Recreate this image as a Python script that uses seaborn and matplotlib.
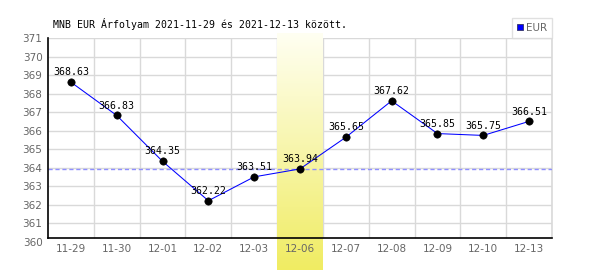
import numpy as np
import pandas as pd
import matplotlib
matplotlib.use("Agg")
import matplotlib.pyplot as plt
from matplotlib.lines import Line2D
import seaborn as sns

# ---- data ----
dates = ["11-29", "11-30", "12-01", "12-02", "12-03", "12-06",
         "12-07", "12-08", "12-09", "12-10", "12-13"]
rates = [368.63, 366.83, 364.35, 362.22, 363.51, 363.94,
         365.65, 367.62, 365.85, 365.75, 366.51]
ref_rate = 363.94
highlight = "12-06"
yticks = list(range(360, 372))
title = "MNB EUR Árfolyam 2021-11-29 és 2021-12-13 között."
series_name = "EUR"

# ---- style / layout constants ----
AXIS_BASE = 360.22
GRID = "#d9d9d9"
TICK_COLOR = "#666666"
MONO = "DejaVu Sans Mono"

sns.set_theme(style="white")
plt.rcParams["font.family"] = ["DejaVu Sans"]

df = pd.DataFrame({"pos": np.arange(len(dates)), "date": dates, "rate": rates})

fig = plt.figure(figsize=(6, 2.7), dpi=100)
ax = fig.add_axes([48 / 600, (270 - 241.8) / 270, 504 / 600, 203.5 / 270])
ax.set_axisbelow(True)

# highlight band (gradient), spilling below the axes
hi = dates.index(highlight)
grad = np.linspace(0, 1, 256).reshape(-1, 1)
cmap = matplotlib.colors.LinearSegmentedColormap.from_list(
    "band", ["#fffff2", "#f0ec62"])
ax.imshow(grad, cmap=cmap, aspect="auto", origin="upper",
          extent=(hi - 0.5, hi + 0.5, -0.139, 1.026),
          transform=ax.get_xaxis_transform(), clip_on=False, zorder=0.2)
ax.set_xlim(-0.5, len(dates) - 0.5)
ax.set_ylim(yticks[0], yticks[-1])

# grid
ax.hlines(yticks[1:], -0.5, len(dates) - 0.5, color=GRID, lw=1, zorder=0)
ax.vlines(np.arange(0.5, len(dates), 1), AXIS_BASE, yticks[-1],
          color=GRID, lw=1, zorder=0)

# reference dashed line
ax.axhline(ref_rate, color="#8f8fff", lw=1, ls=(0, (3, 2)), zorder=2)

# series
sns.lineplot(data=df, x="pos", y="rate", ax=ax, color="#0000ff", lw=0.75,
             zorder=3, legend=False)
sns.scatterplot(data=df, x="pos", y="rate", ax=ax, color="black", s=28,
                edgecolor="black", zorder=4, legend=False)

for p, r in zip(df["pos"], df["rate"]):
    ax.annotate(f"{r:.2f}", (p, r), xytext=(0, 3.5), textcoords="offset points",
                ha="center", va="bottom", fontsize=7.1, family=MONO,
                color="black", zorder=5)

# axes styling
ax.set_xticks(df["pos"])
ax.set_xticklabels(dates)
ax.set_yticks(yticks)
ax.set_yticklabels([str(t) for t in yticks])
ax.tick_params(axis="both", length=0, labelsize=7.5, colors=TICK_COLOR)
ax.tick_params(axis="x", pad=4.5)
ax.tick_params(axis="y", pad=4)
ax.set_xlabel("")
ax.set_ylabel("")
for s in ["top", "right"]:
    ax.spines[s].set_visible(False)
ax.spines["bottom"].set_position(("data", AXIS_BASE))
ax.spines["bottom"].set_color("black")
ax.spines["bottom"].set_linewidth(1.2)
ax.spines["left"].set_color("black")
ax.spines["left"].set_linewidth(1.2)
ax.spines["left"].set_bounds(AXIS_BASE, yticks[-1])
ax.vlines([len(dates) - 0.5], AXIS_BASE, yticks[-1], color=GRID, lw=1.2,
          zorder=0, clip_on=False)

# legend
h = Line2D([], [], marker="s", ls="", markersize=5,
           markerfacecolor="#0000ff", markeredgecolor="#333366",
           markeredgewidth=0.6)
leg = ax.legend([h], [series_name], loc="lower right",
                bbox_to_anchor=(1.0, 1.0), borderaxespad=0, frameon=True,
                fancybox=False, fontsize=7.5, handlelength=0.6,
                handletextpad=0.25, borderpad=0.5, labelcolor=TICK_COLOR)
leg.get_frame().set_edgecolor(GRID)
leg.get_frame().set_linewidth(1)

fig.text(53 / 600, 1 - 23.5 / 270, title, ha="left", va="center",
         family=MONO, fontsize=7.15, color="black")

fig.savefig("out.png", dpi=100)
